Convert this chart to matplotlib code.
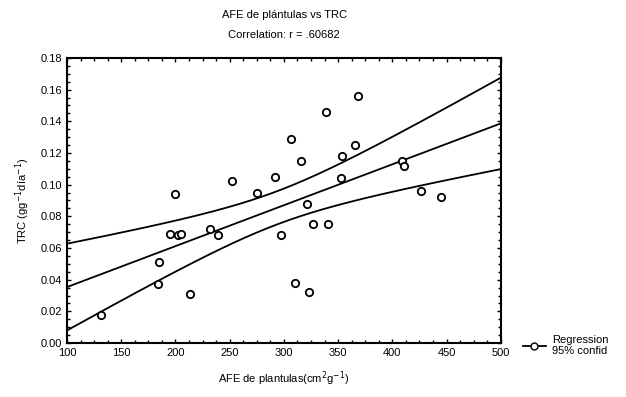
import numpy as np
import matplotlib
matplotlib.use("Agg")
import matplotlib.pyplot as plt
from matplotlib.lines import Line2D

plt.rcParams['font.family'] = ['Liberation Sans', 'DejaVu Sans']

# Data
afe = [131, 184, 185, 195, 202, 205, 200, 213, 232, 239, 252, 275, 292, 297,
       307, 310, 316, 321, 323, 327, 341, 339, 368, 354, 366, 353, 409, 411,
       426, 445]
trc = [0.018, 0.037, 0.051, 0.069, 0.068, 0.069, 0.094, 0.031, 0.072, 0.068,
       0.102, 0.095, 0.105, 0.068, 0.129, 0.038, 0.115, 0.088, 0.032, 0.075,
       0.075, 0.146, 0.156, 0.118, 0.125, 0.104, 0.115, 0.112, 0.096, 0.092]

title1 = "AFE de plántulas vs TRC"
title2 = "Correlation: r = .60682"
xlabel = "AFE de plantulas(cm$^2$g$^{-1}$)"
ylabel = "TRC (gg$^{-1}$día$^{-1}$)"
xticks = [100, 150, 200, 250, 300, 350, 400, 450, 500]
yticks = [0.00, 0.02, 0.04, 0.06, 0.08, 0.10, 0.12, 0.14, 0.16, 0.18]
legend_labels = ["Regression", "95% confid"]

x = np.array(afe, dtype=float)
y = np.array(trc, dtype=float)
n = len(x)
b, a = np.polyfit(x, y, 1)
xs = np.linspace(xticks[0], xticks[-1], 200)
yhat = a + b * xs
resid = y - (a + b * x)
s = np.sqrt(np.sum(resid ** 2) / (n - 2))
sxx = np.sum((x - x.mean()) ** 2)
tval = 2.048
half = tval * s * np.sqrt(1.0 / n + (xs - x.mean()) ** 2 / sxx)

fig = plt.figure(figsize=(6.26, 3.97), dpi=100)
ax = fig.add_axes([0.107, 0.136, 0.693, 0.718])

ax.plot(xs, yhat, color='black', lw=1.3)
ax.plot(xs, yhat + half, color='black', lw=1.3)
ax.plot(xs, yhat - half, color='black', lw=1.3)
ax.scatter(x, y, s=28, facecolors='white', edgecolors='black', linewidths=1.3, zorder=3)

ax.set_xlim(xticks[0], xticks[-1])
ax.set_ylim(yticks[0], yticks[-1])
ax.set_xticks(xticks)
ax.set_yticks(yticks)
ax.set_yticklabels([f"{v:.2f}" for v in yticks])
ax.set_xticks(np.arange(100, 501, 12.5), minor=True)
ax.set_yticks(np.arange(0, 0.1801, 0.005), minor=True)
ax.tick_params(which='both', direction='in', top=True, right=True, labelsize=8, width=1)
ax.tick_params(which='major', length=3)
ax.tick_params(which='minor', length=2)
for sp in ax.spines.values():
    sp.set_linewidth(1.5)

ax.set_xlabel(xlabel, fontsize=8, labelpad=8)
ax.set_ylabel(ylabel, fontsize=8, labelpad=6)

fig.text(0.454, 0.962, title1, ha='center', va='center', fontsize=8)
fig.text(0.454, 0.912, title2, ha='center', va='center', fontsize=8)

handle = Line2D([], [], color='black', lw=1.3, marker='o', markerfacecolor='white',
                markeredgecolor='black', markersize=5)
fig.legend([handle], ["\n".join(legend_labels)], loc='center left',
           bbox_to_anchor=(0.82, 0.13), frameon=False, fontsize=8,
           handlelength=2.0, handletextpad=0.6)

fig.savefig("out.png", dpi=100)
